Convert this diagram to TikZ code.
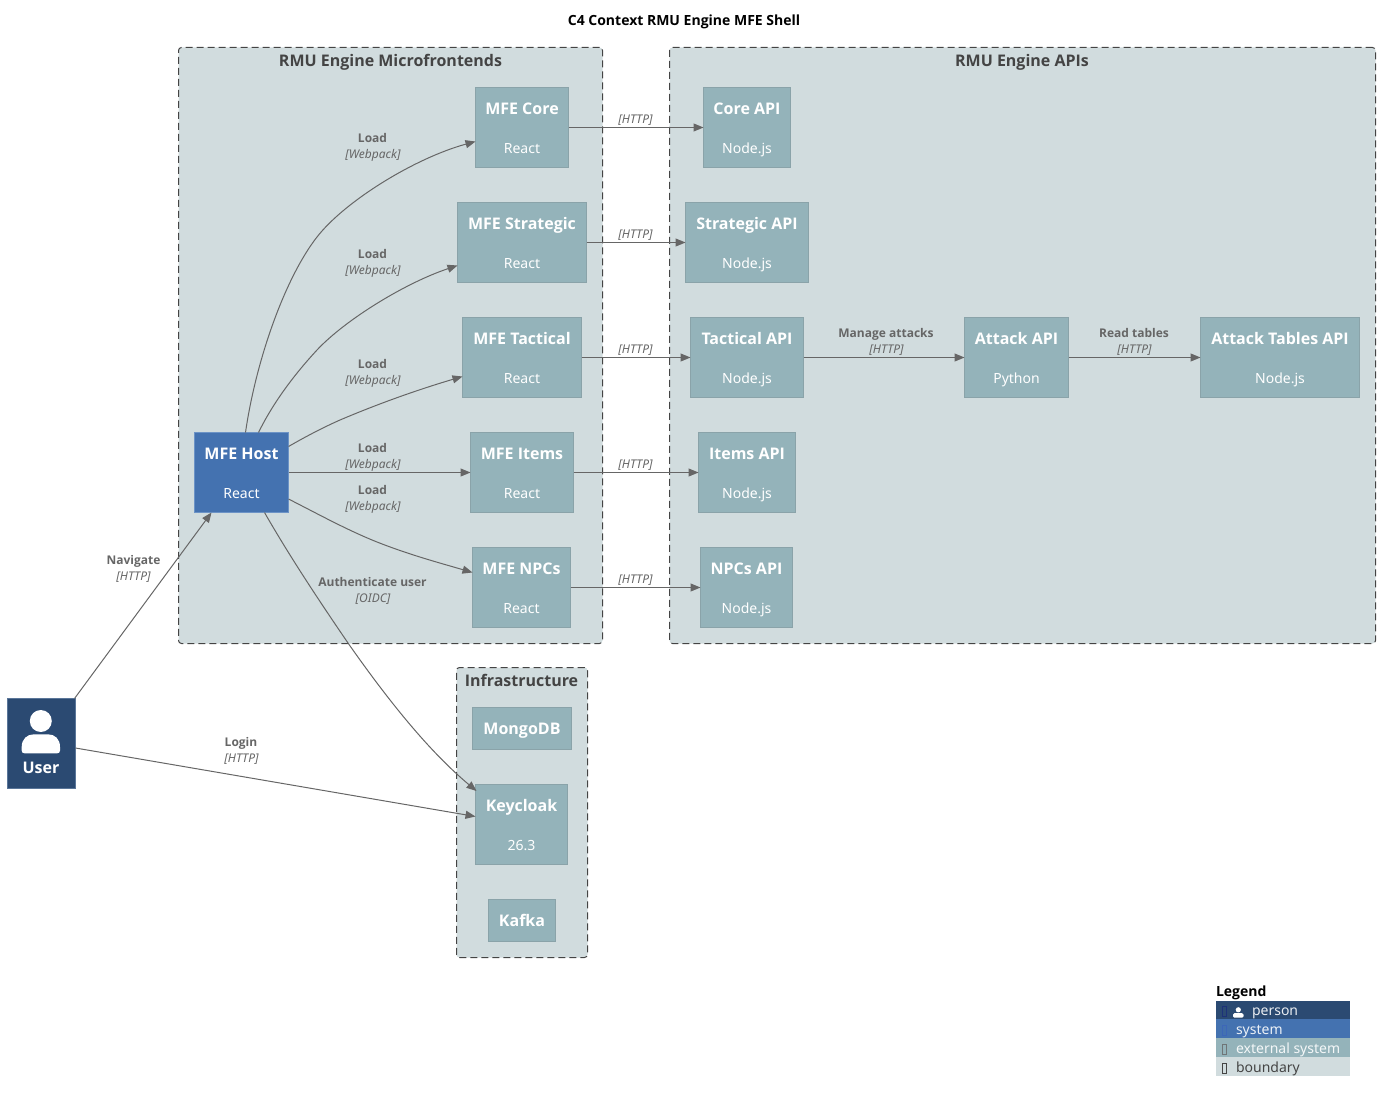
\documentclass[tikz,border=0pt]{standalone}
\usepackage{fontspec}
\setmainfont{Noto Sans}[BoldFont={Open Sans Bold}]
\usetikzlibrary{arrows.meta,calc}
\definecolor{bndfill}{HTML}{D1DCDE}
\definecolor{bndline}{HTML}{444444}
\definecolor{extfill}{HTML}{94B3BA}
\definecolor{extline}{HTML}{8AA3A9}
\definecolor{sysfill}{HTML}{4472B0}
\definecolor{sysline}{HTML}{6C93C6}
\definecolor{perfill}{HTML}{2B4A72}
\definecolor{perline}{HTML}{5A7699}
\definecolor{edge}{HTML}{666666}
\newcommand{\nodetext}[2]{\rule{0pt}{12.5pt}\smash{\raisebox{-0.7pt}{\fontsize{16}{20}\selectfont\bfseries #1}}\\[24pt]\smash{\fontsize{14}{20}\selectfont #2}}
\newcommand{\onetext}[1]{\rule{0pt}{11pt}\smash{\fontsize{16}{20}\selectfont\bfseries #1}}
\newcommand{\boxnode}[7]{%
  \node[#6, minimum width=#4pt-#2pt, minimum height=#5pt-#3pt] (#1) at ({(#2+#4)/2},{(#3+#5)/2}) {#7};}
\tikzset{
  x=1pt,y=-1pt,
  every node/.style={inner sep=0pt,outer sep=0pt},
  extbox/.style={draw=extline,fill=extfill,line width=1pt,text=white,align=center,font=\fontsize{14}{16}\selectfont},
  sysbox/.style={draw=sysline,fill=sysfill,line width=1pt,text=white,align=center,font=\fontsize{14}{16}\selectfont},
  perbox/.style={draw=perline,fill=perfill,line width=1pt},
  bnd/.style={draw=bndline,fill=bndfill,line width=1pt,dash pattern=on 7pt off 4pt,rounded corners=3pt},
  bndtitle/.style={anchor=base,yshift=-0.7pt,font=\fontsize{16}{20}\selectfont\bfseries,text=bndline},
  conn/.style={draw=edge,line width=1pt,-{Triangle[length=10pt,width=8pt,fill=edge]}},
  lblb/.style={anchor=base,yshift=-0.4pt,font=\fontsize{12}{16}\selectfont\bfseries,text=edge},
  lbli/.style={anchor=base,yshift=-0.2pt,font=\fontsize{12}{16}\selectfont\itshape,text=edge},
  legrow/.style={anchor=base west,font=\fontsize{14}{18}\selectfont},
  tofu/.style={draw,line width=.7pt,inner sep=0pt,minimum width=4pt,minimum height=10pt},
}
\begin{document}
\begin{tikzpicture}
\useasboundingbox (0,0) rectangle (1380,1102);
\node[anchor=base,yshift=-0.7pt,font=\fontsize{14}{18}\selectfont\bfseries] (title) at (684,25) {C4 Context RMU Engine MFE Shell};
% boundaries
\boxnode{bmicro}{178.5}{47.5}{602.5}{643.5}{bnd}{}
\boxnode{bapi}{669.5}{47.5}{1375.5}{643.5}{bnd}{}
\boxnode{binfra}{456.5}{667.5}{587.5}{957.5}{bnd}{}
\node[bndtitle] (tmicro) at (390.5,66) {RMU Engine Microfrontends};
\node[bndtitle] (tapi) at (1022,66) {RMU Engine APIs};
\node[bndtitle] (tinfra) at (521.5,686) {Infrastructure};
% MFEs
\boxnode{mcore}{475.5}{87.5}{568.5}{167.5}{extbox}{\nodetext{MFE Core}{React}}
\boxnode{mstrat}{457.5}{202.5}{586.5}{282.5}{extbox}{\nodetext{MFE Strategic}{React}}
\boxnode{mtact}{462.5}{317.5}{581.5}{397.5}{extbox}{\nodetext{MFE Tactical}{React}}
\boxnode{mitems}{470.5}{432.5}{573.5}{512.5}{extbox}{\nodetext{MFE Items}{React}}
\boxnode{mnpcs}{472.5}{547.5}{570.5}{627.5}{extbox}{\nodetext{MFE NPCs}{React}}
\boxnode{host}{194.5}{432.5}{288.5}{512.5}{sysbox}{\nodetext{MFE Host}{React}}
% APIs
\boxnode{acore}{703.5}{87.5}{790.5}{167.5}{extbox}{\nodetext{Core API}{Node.js}}
\boxnode{astrat}{685.5}{202.5}{808.5}{282.5}{extbox}{\nodetext{Strategic API}{Node.js}}
\boxnode{atact}{690.5}{317.5}{803.5}{397.5}{extbox}{\nodetext{Tactical API}{Node.js}}
\boxnode{aattack}{964.5}{317.5}{1068.5}{397.5}{extbox}{\nodetext{Attack API}{Python}}
\boxnode{atables}{1200.5}{317.5}{1359.5}{397.5}{extbox}{\nodetext{Attack Tables API}{Node.js}}
\boxnode{aitems}{698.5}{432.5}{795.5}{512.5}{extbox}{\nodetext{Items API}{Node.js}}
\boxnode{anpcs}{700.5}{547.5}{792.5}{627.5}{extbox}{\nodetext{NPCs API}{Node.js}}
% Infra
\boxnode{mongo}{472.5}{707.5}{571.5}{749.5}{extbox}{\onetext{MongoDB}}
\boxnode{keycloak}{475.5}{784.5}{567.5}{864.5}{extbox}{\nodetext{Keycloak}{26.3}}
\boxnode{kafka}{488.5}{899.5}{555.5}{941.5}{extbox}{\onetext{Kafka}}
% User
\boxnode{user}{7.5}{698.5}{75.5}{788.5}{perbox}{}
\fill[white] (40.8,721) circle (11);
\fill[white] (24.5,753.3) .. controls (22.7,753.3) and (21.7,752.3) .. (21.7,750.5) -- (21.7,747) .. controls (21.7,739) and (27,734.3) .. (34,734.3) -- (48,734.3) .. controls (55,734.3) and (60,739) .. (60,747) -- (60,750.5) .. controls (60,752.3) and (59,753.3) .. (57.2,753.3) -- cycle;
\node[anchor=base,text=white,font=\fontsize{16}{20}\selectfont\bfseries] (userlbl) at (41,773) {User};
% connectors
\draw[conn] ($(host.north west)+(51,0)$) .. controls (256,360) and (285,278) .. (317,237) .. controls (345,201) and (415,158) .. ($(mcore.north west)+(0,54)$);
\draw[conn] ($(host.north west)+(64,0)$) .. controls (272,405) and (292,377) .. (317,350) .. controls (345,320) and (405,283) .. ($(mstrat.north west)+(0,63)$);
\draw[conn] ($(host.north east)+(0,14)$) .. controls (305,437) and (322,428) .. (340,420) .. controls (380,403) and (420,389) .. ($(mtact.north west)+(0,59)$);
\draw[conn] (host.east) -- (mitems.west);
\draw[conn] ($(host.south east)+(0,-13.5)$) .. controls (318,514) and (347,530) .. (377,542) .. controls (410,555) and (440,563) .. ($(mnpcs.north west)+(0,25)$);
\draw[conn] ($(host.south west)+(70,0)$) .. controls (290,557) and (320,602) .. (348,643) .. controls (390,703) and (430,752) .. ($(keycloak.north west)+(1,6.5)$);
\draw[conn] ($(user.north east)+(-1,0)$) -- ($(host.south west)+(17,0)$);
\draw[conn] ($(user.east)+(0,4.5)$) -- ($(keycloak.west)+(0,-8)$);
\draw[conn] (mcore.east) -- (acore.west);
\draw[conn] (mstrat.east) -- (astrat.west);
\draw[conn] (mtact.east) -- (atact.west);
\draw[conn] (mitems.east) -- (aitems.west);
\draw[conn] (mnpcs.east) -- (anpcs.west);
\draw[conn] (atact.east) -- (aattack.west);
\draw[conn] (aattack.east) -- (atables.west);
% labels
\node[lblb] (l1) at (372.5,142) {Load};\node[lbli] (l1b) at (373,158) {[Webpack]};
\node[lblb] (l2) at (372.5,258) {Load};\node[lbli] (l2b) at (373,274) {[Webpack]};
\node[lblb] (l3) at (372.5,368) {Load};\node[lbli] (l3b) at (373,384) {[Webpack]};
\node[lblb] (l4) at (372.5,452) {Load};\node[lbli] (l4b) at (373,468) {[Webpack]};
\node[lblb] (l5) at (372.5,494) {Load};\node[lbli] (l5b) at (373,510) {[Webpack]};
\node[lblb] (l6) at (372.5,586) {Authenticate user};\node[lbli] (l6b) at (373,602) {[OIDC]};
\node[lblb] (l7) at (133.5,564) {Navigate};\node[lbli] (l7b) at (133.5,580) {[HTTP]};
\node[lblb] (l8) at (241,746) {Login};\node[lbli] (l8b) at (241.5,762) {[HTTP]};
\node[lbli] (h1) at (635.5,123) {[HTTP]};
\node[lbli] (h2) at (635.5,238) {[HTTP]};
\node[lbli] (h3) at (635.5,353) {[HTTP]};
\node[lbli] (h4) at (635.5,468) {[HTTP]};
\node[lbli] (h5) at (635.5,583) {[HTTP]};
\node[lblb] (l9) at (886,337) {Manage attacks};\node[lbli] (l9b) at (886.5,353) {[HTTP]};
\node[lblb] (l10) at (1134,337) {Read tables};\node[lbli] (l10b) at (1134.5,353) {[HTTP]};
% legend
\node[anchor=base west,font=\fontsize{14}{18}\selectfont\bfseries] (legt) at (1216,996) {Legend};
\fill[perfill] (1216,1000.5) rectangle (1350,1019);
\fill[sysfill] (1216,1019) rectangle (1350,1038);
\fill[extfill] (1216,1038) rectangle (1350,1057);
\fill[bndfill] (1216,1057) rectangle (1350,1076);
\node[tofu,draw=perfill!80!blue!85!black] (t1) at (1224,1011) {};
\node[tofu,draw=sysfill!90!blue] (t2) at (1224,1030) {};
\node[tofu,draw=edge!80!extfill] (t3) at (1224,1049.3) {};
\node[tofu,draw=bndline] (t4) at (1224,1068) {};
\fill[white] (1238.3,1009.8) circle (2.6);
\fill[white,rounded corners=1.4pt] (1233,1017.7) -- (1233,1013.2) -- (1243.5,1013.2) -- (1243.5,1017.7) -- cycle;
\node[legrow,text=white!90!perfill] (lg1) at (1252,1015) {person};
\node[legrow,text=white!90!sysfill] (lg2) at (1236,1034) {system};
\node[legrow,text=white!90!extfill] (lg3) at (1236,1053) {external system};
\node[legrow,text=bndline] (lg4) at (1236,1072) {boundary};
\end{tikzpicture}
\end{document}
